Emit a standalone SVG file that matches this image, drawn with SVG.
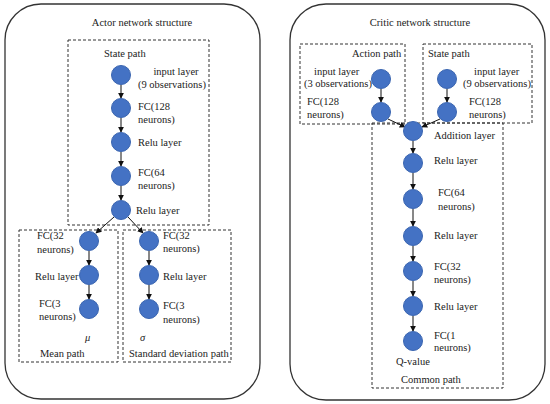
<svg xmlns="http://www.w3.org/2000/svg" width="550" height="404" viewBox="0 0 550 404">
<defs>
<style>
.t{font-family:"Liberation Serif","Times New Roman",serif;font-size:10.5px;fill:#222}
.c{text-anchor:middle}
.outer{fill:none;stroke:#333;stroke-width:1.3}
.dash{fill:none;stroke:#333;stroke-width:1;stroke-dasharray:3,2}
.n{fill:#4472C4;stroke:#3A65B0;stroke-width:1}
.e{stroke:#111;stroke-width:1;fill:none;marker-end:url(#ah)}
</style>
<marker id="ah" viewBox="0 0 8 8" refX="7" refY="4" markerWidth="6" markerHeight="6" orient="auto" markerUnits="userSpaceOnUse">
<path d="M0,0 L8,4 L0,8 z" fill="#111"/>
</marker>
</defs>
<rect width="550" height="404" fill="#fff"/>
<rect class="outer" x="5" y="4" width="255" height="395" rx="36" ry="36"/>
<rect class="outer" x="290" y="4" width="255" height="396" rx="36" ry="36"/>
<text class="t c" x="142" y="26">Actor network structure</text>
<text class="t c" x="420" y="26">Critic network structure</text>
<g id="actor-state-path"><rect class="dash" x="68" y="40" width="141" height="185"/><text class="t" x="104" y="57">State path</text></g>
<g id="mean-path"><rect class="dash" x="19" y="230" width="99" height="132"/><text class="t" x="40" y="357">Mean path</text></g>
<g id="std-path"><rect class="dash" x="123" y="230" width="108" height="132"/><text class="t" x="129" y="357">Standard deviation path</text></g>
<g id="action-path"><rect class="dash" x="300" y="44" width="105" height="80"/><text class="t" x="352" y="57">Action path</text></g>
<g id="critic-state-path"><rect class="dash" x="423" y="44" width="109" height="79"/><text class="t" x="428" y="57">State path</text></g>
<g id="common-path"><rect class="dash" x="372" y="123" width="131" height="265"/><text class="t" x="401" y="383">Common path</text></g>
<g id="connectors">
<line class="e" x1="121" y1="85" x2="121" y2="98"/>
<line class="e" x1="121" y1="118" x2="121" y2="132"/>
<line class="e" x1="121" y1="152" x2="121" y2="166"/>
<line class="e" x1="121" y1="186" x2="121" y2="200"/>
<line class="e" x1="114" y1="217" x2="96" y2="233"/>
<line class="e" x1="128" y1="217" x2="143" y2="233"/>
<line class="e" x1="89" y1="251" x2="89" y2="265"/>
<line class="e" x1="89" y1="285" x2="89" y2="299"/>
<line class="e" x1="149" y1="251" x2="149" y2="265"/>
<line class="e" x1="149" y1="285" x2="149" y2="299"/>
<line class="e" x1="381" y1="89" x2="381" y2="102"/>
<line class="e" x1="447" y1="89" x2="447" y2="102"/>
<line class="e" x1="388" y1="119" x2="405" y2="127"/>
<line class="e" x1="440" y1="119" x2="422" y2="127"/>
<line class="e" x1="413" y1="141" x2="413" y2="153"/>
<line class="e" x1="413" y1="173" x2="413" y2="189"/>
<line class="e" x1="413" y1="209" x2="413" y2="226"/>
<line class="e" x1="413" y1="246" x2="413" y2="261"/>
<line class="e" x1="413" y1="281" x2="413" y2="296"/>
<line class="e" x1="413" y1="316" x2="413" y2="331"/>
</g>
<g id="a-input"><circle class="n" cx="121" cy="75" r="9.5"/><text class="t c" x="176" y="75">input layer</text><text class="t" x="138" y="88">(9 observations)</text></g>
<g id="a-fc128"><circle class="n" cx="121" cy="108" r="9.5"/><text class="t" x="138" y="110">FC(128</text><text class="t" x="138" y="123">neurons)</text></g>
<g id="a-relu1"><circle class="n" cx="121" cy="142" r="9.5"/><text class="t" x="138" y="146">Relu layer</text></g>
<g id="a-fc64"><circle class="n" cx="121" cy="176" r="9.5"/><text class="t" x="138" y="176">FC(64</text><text class="t" x="138" y="189">neurons)</text></g>
<g id="a-relu2"><circle class="n" cx="121" cy="210" r="9.5"/><text class="t" x="136" y="214">Relu layer</text></g>
<g id="m-fc32"><circle class="n" cx="89" cy="241" r="9.5"/><text class="t" x="37" y="239">FC(32</text><text class="t" x="37" y="253">neurons)</text></g>
<g id="m-relu"><circle class="n" cx="89" cy="275" r="9.5"/><text class="t" x="35" y="280">Relu layer</text></g>
<g id="m-fc3"><circle class="n" cx="89" cy="309" r="9.5"/><text class="t" x="39" y="307">FC(3</text><text class="t" x="39" y="320">neurons)</text></g>
<text class="t" x="85" y="341" font-style="italic">μ</text>
<g id="s-fc32"><circle class="n" cx="149" cy="241" r="9.5"/><text class="t" x="163" y="239">FC(32</text><text class="t" x="163" y="252">neurons)</text></g>
<g id="s-relu"><circle class="n" cx="149" cy="275" r="9.5"/><text class="t" x="163" y="280">Relu layer</text></g>
<g id="s-fc3"><circle class="n" cx="149" cy="309" r="9.5"/><text class="t" x="163" y="309">FC(3</text><text class="t" x="163" y="323">neurons)</text></g>
<text class="t" x="140" y="341" font-style="italic">σ</text>
<g id="c-a-input"><circle class="n" cx="381" cy="79" r="9.5"/><text class="t" x="314" y="75">input layer</text><text class="t" x="304" y="87">(3 observations)</text></g>
<g id="c-a-fc128"><circle class="n" cx="381" cy="112" r="9.5"/><text class="t" x="307" y="105">FC(128</text><text class="t" x="307" y="118">neurons)</text></g>
<g id="c-s-input"><circle class="n" cx="447" cy="79" r="9.5"/><text class="t" x="474" y="75">input layer</text><text class="t" x="463" y="87">(9 observations)</text></g>
<g id="c-s-fc128"><circle class="n" cx="447" cy="112" r="9.5"/><text class="t" x="469" y="105">FC(128</text><text class="t" x="469" y="118">neurons)</text></g>
<g id="c-add"><circle class="n" cx="413" cy="131" r="9.5"/><text class="t" x="434" y="139">Addition layer</text></g>
<g id="c-relu1"><circle class="n" cx="413" cy="163" r="9.5"/><text class="t" x="434" y="164">Relu layer</text></g>
<g id="c-fc64"><circle class="n" cx="413" cy="199" r="9.5"/><text class="t" x="438" y="196">FC(64</text><text class="t" x="438" y="210">neurons)</text></g>
<g id="c-relu2"><circle class="n" cx="413" cy="236" r="9.5"/><text class="t" x="434" y="239">Relu layer</text></g>
<g id="c-fc32"><circle class="n" cx="413" cy="271" r="9.5"/><text class="t" x="434" y="270">FC(32</text><text class="t" x="434" y="283">neurons)</text></g>
<g id="c-relu3"><circle class="n" cx="413" cy="306" r="9.5"/><text class="t" x="434" y="310">Relu layer</text></g>
<g id="c-fc1"><circle class="n" cx="413" cy="341" r="9.5"/><text class="t" x="434" y="339">FC(1</text><text class="t" x="434" y="351">neurons)</text></g>
<text class="t" x="396" y="365">Q-value</text>
</svg>
